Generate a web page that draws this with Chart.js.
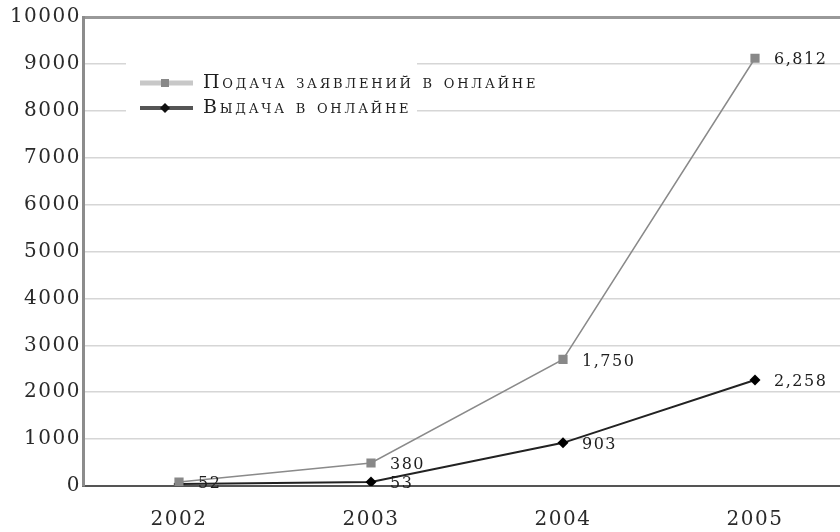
<!DOCTYPE html>
<html>
<head>
<meta charset="utf-8">
<script src="https://cdn.jsdelivr.net/npm/chart.js@4"></script>
<style>
  html, body { margin: 0; padding: 0; background: #fff; overflow: hidden; }
  #wrap { width: 860px; height: 532px; }
</style>
</head>
<body>
<div id="wrap"><canvas id="chart" width="860" height="532"></canvas></div>
<script>
// DATA
const years = ['2002', '2003', '2004', '2005'];
const filedValues = [85, 490, 2700, 9120];
const filedLabels = ['52', '380', '1,750', '6,812'];
const issuedValues = [40, 85, 920, 2260];
const issuedLabels = ['', '53', '903', '2,258'];
const seriesNames = ['Подача заявлений в онлайне', 'Выдача в онлайне'];
const yMin = 0, yMax = 10000, yStep = 1000;

const FONT = '"DejaVu Serif", "Liberation Serif", serif';

// a bit of letter spacing for the tick labels
const spacing = {
  id: 'spacing',
  beforeUpdate(chart) { chart.ctx.letterSpacing = '1.5px'; },
  beforeDraw(chart) { chart.ctx.letterSpacing = '1.5px'; }
};

// legend drawn inside the plot, on a white patch over the grid
const innerLegend = {
  id: 'innerLegend',
  beforeDatasetsDraw(chart) {
    const ctx = chart.ctx;
    ctx.save();
    ctx.fillStyle = '#fff';
    ctx.fillRect(126, 54, 291, 66);

    const rows = [
      { y: 83, line: '#c8c8c8', lw: 5, marker: 'rect', fill: '#888' },
      { y: 108, line: '#555', lw: 4, marker: 'diamond', fill: '#111' }
    ];
    rows.forEach((r, i) => {
      ctx.strokeStyle = r.line;
      ctx.lineWidth = r.lw;
      ctx.beginPath();
      ctx.moveTo(140, r.y);
      ctx.lineTo(193, r.y);
      ctx.stroke();
      ctx.fillStyle = r.fill;
      if (r.marker === 'rect') {
        ctx.fillRect(161, r.y - 4, 8, 8);
      } else {
        ctx.beginPath();
        ctx.moveTo(165, r.y - 5);
        ctx.lineTo(170, r.y);
        ctx.lineTo(165, r.y + 5);
        ctx.lineTo(160, r.y);
        ctx.closePath();
        ctx.fill();
      }
      ctx.fillStyle = '#1e1e1e';
      ctx.font = 'small-caps 19px ' + FONT;
      ctx.letterSpacing = '2.8px';
      ctx.textBaseline = 'middle';
      ctx.textAlign = 'left';
      ctx.fillText(seriesNames[i], 203, r.y);
    });
    ctx.restore();
  }
};

// value labels to the right of each point
const pointLabels = {
  id: 'pointLabels',
  afterDatasetsDraw(chart) {
    const ctx = chart.ctx;
    const texts = [filedLabels, issuedLabels];
    ctx.save();
    ctx.font = '16px ' + FONT;
    ctx.letterSpacing = '1.5px';
    ctx.fillStyle = '#1e1e1e';
    ctx.textBaseline = 'middle';
    ctx.textAlign = 'left';
    chart.data.datasets.forEach((ds, di) => {
      chart.getDatasetMeta(di).data.forEach((pt, i) => {
        if (texts[di][i]) ctx.fillText(texts[di][i], pt.x + 19, pt.y + 2);
      });
    });
    ctx.restore();
  }
};

const ctx = document.getElementById('chart');

const data = {
  labels: years,
  datasets: [
    {
      label: seriesNames[0],
      data: filedValues,
      borderColor: '#8a8a8a',
      borderWidth: 1.5,
      pointStyle: 'rect',
      pointRadius: 6.5,
      pointBackgroundColor: '#888',
      pointBorderWidth: 0,
      tension: 0
    },
    {
      label: seriesNames[1],
      data: issuedValues,
      borderColor: '#222',
      borderWidth: 2,
      pointStyle: 'rectRot',
      pointRadius: 5.5,
      pointBackgroundColor: '#000',
      pointBorderWidth: 0,
      tension: 0
    }
  ]
};

const config = {
  type: 'line',
  data: data,
  options: {
    responsive: false,
    animation: false,
    devicePixelRatio: 1,
    layout: { padding: { top: 17, right: 9, left: 0, bottom: 0 } },
    plugins: {
      legend: { display: false },
      tooltip: { enabled: false }
    },
    scales: {
      x: {
        offset: true,
        grid: { display: false },
        border: { display: true, color: '#555', width: 2 },
        ticks: { color: '#2a2a2a', padding: 14, font: { family: FONT, size: 20 } },
        afterFit: (scale) => { scale.height = 46; }
      },
      y: {
        min: yMin,
        max: yMax,
        ticks: {
          stepSize: yStep,
          color: '#2a2a2a',
          padding: 2,
          font: { family: FONT, size: 20 },
          callback: (v) => String(v)
        },
        grid: {
          drawTicks: false,
          color: (c) => c.tick.value === yMax ? '#999' : (c.tick.value === 0 ? 'rgba(0,0,0,0)' : '#d6d6d6'),
          lineWidth: (c) => c.tick.value === yMax ? 3 : 1.5
        },
        border: { display: true, color: '#8c8c8c', width: 3 },
        afterFit: (scale) => { scale.width = 83; }
      }
    }
  },
  plugins: [spacing, innerLegend, pointLabels]
};

new Chart(ctx, config);
</script>
</body>
</html>
